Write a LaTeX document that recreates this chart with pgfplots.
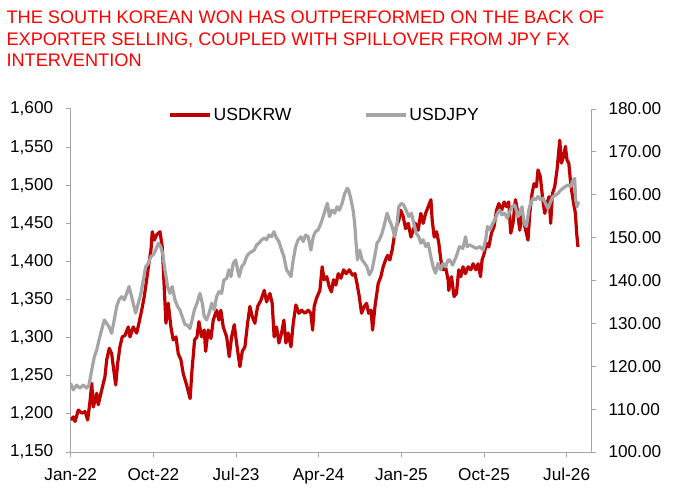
\documentclass[border=0pt]{standalone}
\usepackage{pgfplots}
\pgfplotsset{compat=1.18}
\usepackage{pgfplotstable}
\usepackage{fontspec}
\setmainfont{Liberation Sans}
\definecolor{krw}{HTML}{C00000}
\definecolor{jpy}{HTML}{A5A5A5}
\definecolor{axisgray}{HTML}{A6A6A6}
\definecolor{titlered}{HTML}{FF0000}

\pgfplotstableread{
m v
0.00 1192
0.28 1196
0.47 1190
0.83 1205
1.20 1201
1.56 1203
1.85 1192
2.10 1216
2.29 1240
2.46 1209
2.83 1227
3.00 1212
3.37 1231
3.73 1249
3.92 1271
4.20 1286
4.46 1279
4.64 1262
4.90 1238
5.11 1266
5.36 1288
5.61 1301
5.91 1303
6.27 1314
6.45 1301
6.81 1314
7.18 1306
7.43 1319
7.73 1336
8.01 1354
8.27 1376
8.52 1398
8.74 1415
8.88 1439
9.10 1428
9.36 1435
9.72 1439
9.97 1419
10.18 1367
10.37 1319
10.62 1345
10.91 1314
11.16 1297
11.46 1301
11.71 1279
12.00 1271
12.25 1253
12.62 1238
13.00 1220
13.21 1258
13.49 1297
13.75 1301
13.96 1321
14.25 1301
14.54 1310
14.69 1282
14.97 1310
15.27 1299
15.52 1323
15.88 1336
16.14 1323
16.35 1336
16.61 1314
16.98 1301
17.26 1275
17.52 1301
17.81 1317
18.06 1293
18.42 1262
18.68 1282
18.97 1288
19.26 1319
19.51 1341
19.76 1328
20.05 1319
20.35 1341
20.71 1349
21.07 1362
21.33 1347
21.69 1358
21.94 1345
22.15 1301
22.41 1314
22.67 1293
22.96 1306
23.21 1323
23.43 1293
23.68 1306
23.98 1288
24.23 1319
24.52 1343
24.84 1332
25.14 1336
25.50 1332
25.86 1336
26.15 1332
26.34 1310
26.51 1341
26.77 1352
27.13 1362
27.38 1393
27.59 1376
27.88 1380
28.14 1367
28.39 1360
28.61 1376
28.87 1369
29.13 1384
29.42 1378
29.71 1389
30.00 1384
30.33 1389
30.69 1382
30.95 1384
31.17 1371
31.42 1354
31.67 1332
31.96 1341
32.22 1345
32.44 1332
32.70 1336
32.87 1310
33.13 1341
33.48 1371
33.77 1380
34.02 1393
34.28 1402
34.50 1408
34.75 1402
35.00 1415
35.22 1432
35.47 1446
35.73 1454
35.94 1467
36.20 1459
36.46 1443
36.75 1450
37.04 1432
37.30 1441
37.54 1450
37.83 1441
38.12 1463
38.38 1450
38.64 1463
38.93 1472
39.22 1481
39.36 1454
39.58 1432
39.84 1439
40.08 1424
40.30 1402
40.55 1389
40.81 1393
41.09 1376
41.16 1362
41.46 1380
41.74 1354
42.00 1358
42.25 1389
42.47 1380
42.72 1393
42.98 1384
43.27 1393
43.56 1389
43.81 1397
44.11 1389
44.36 1397
44.62 1380
44.79 1402
45.01 1410
45.27 1424
45.52 1419
45.81 1437
46.10 1446
46.36 1467
46.61 1476
46.91 1467
47.19 1478
47.44 1472
47.69 1478
47.91 1437
48.16 1450
48.42 1481
48.64 1467
48.89 1441
49.08 1459
49.36 1450
49.54 1441
49.79 1428
49.98 1463
50.23 1489
50.45 1502
50.71 1498
50.88 1520
51.14 1511
51.36 1485
51.61 1463
51.86 1476
52.08 1485
52.26 1450
52.45 1489
52.70 1498
52.95 1520
53.25 1559
53.43 1529
53.65 1537
53.86 1551
54.04 1533
54.23 1529
54.44 1502
54.69 1481
54.95 1463
55.09 1437
55.23 1419
}\krwdata

\pgfplotstableread{
m v
0.00 116.0
0.28 114.5
0.65 115.6
1.01 114.9
1.38 115.6
1.74 114.9
1.99 115.6
2.29 119.1
2.57 122.2
2.83 123.8
3.08 126.1
3.37 128.5
3.66 130.8
3.92 130.0
4.17 129.2
4.46 127.7
4.74 130.8
5.00 133.9
5.26 135.5
5.55 136.2
5.84 135.5
6.10 137.0
6.35 138.6
6.64 136.2
6.89 133.9
7.08 132.4
7.36 134.7
7.65 137.0
7.90 140.1
8.16 143.2
8.45 144.0
8.74 145.6
8.99 146.0
9.25 147.1
9.54 148.7
9.80 147.9
10.01 146.3
10.26 142.5
10.55 138.6
10.80 137.0
11.05 138.6
11.35 135.5
11.64 133.9
11.89 133.1
12.14 131.6
12.43 129.8
12.73 129.5
12.98 128.8
13.24 131.0
13.46 133.1
13.75 134.7
14.07 137.0
14.33 134.7
14.54 131.6
14.80 130.8
15.07 132.4
15.36 134.7
15.63 133.1
15.88 136.2
16.14 137.4
16.43 137.0
16.68 140.1
16.98 140.5
17.23 142.5
17.45 140.9
17.70 144.0
17.96 144.8
18.17 142.5
18.35 140.9
18.61 143.2
18.90 144.0
19.16 145.6
19.41 146.3
19.70 146.7
19.98 147.1
20.24 148.3
20.49 148.7
20.79 149.5
21.07 149.9
21.33 149.5
21.58 150.6
21.87 150.2
22.12 151.4
22.41 149.9
22.67 149.1
22.96 147.1
23.21 145.6
23.50 142.5
23.75 141.7
23.98 140.9
24.23 144.8
24.49 147.9
24.77 149.5
25.07 150.2
25.32 149.1
25.58 150.6
25.86 150.2
26.15 147.1
26.41 150.2
26.66 151.4
26.94 151.8
27.24 153.3
27.49 154.9
27.81 157.2
27.95 158.0
28.17 154.9
28.46 156.4
28.74 155.7
29.00 157.2
29.25 156.4
29.55 158.0
29.84 160.3
30.10 161.5
30.26 161.1
30.53 158.8
30.75 156.4
30.92 153.3
31.07 148.7
31.22 144.8
31.46 147.1
31.72 144.8
32.01 144.0
32.26 143.2
32.52 141.3
32.81 142.5
33.10 145.6
33.35 148.7
33.61 149.5
33.90 151.0
34.18 153.3
34.45 155.7
34.70 154.1
34.99 152.6
35.28 150.2
35.54 153.3
35.72 157.2
36.01 158.0
36.26 157.6
36.52 156.4
36.81 154.9
37.10 155.7
37.36 153.3
37.62 151.0
37.90 150.2
38.12 148.7
38.37 149.5
38.67 147.9
38.92 148.7
39.21 145.6
39.46 143.2
39.72 141.7
40.00 144.0
40.27 142.5
40.55 144.0
40.81 143.2
41.09 144.8
41.27 144.8
41.58 143.6
41.98 145.6
42.33 147.9
42.70 147.5
42.99 150.2
43.18 147.9
43.44 148.3
43.81 147.9
44.18 147.5
44.54 147.9
44.91 147.1
45.18 149.5
45.38 152.6
45.65 151.8
45.94 153.3
46.17 154.1
46.46 155.7
46.71 156.4
46.96 155.3
47.25 155.7
47.54 154.5
47.80 156.1
48.05 157.2
48.34 157.6
48.53 156.4
48.71 154.9
48.89 155.7
49.14 157.2
49.36 153.3
49.62 152.6
49.87 156.4
50.08 158.0
50.34 159.2
50.60 158.8
50.88 159.6
51.18 158.8
51.43 159.2
51.69 158.0
51.97 156.8
52.26 158.4
52.51 159.6
52.80 159.9
53.05 160.3
53.35 161.1
53.60 161.5
53.86 161.9
54.14 162.3
54.44 161.9
54.69 163.4
54.87 163.8
54.98 158.8
55.13 157.2
55.31 158.4
}\jpydata

\begin{document}
\begin{tikzpicture}
\path[use as bounding box] (0,0) rectangle (674pt,490pt);
\begin{scope}[font=\fontsize{18.2}{21.3}\selectfont, text=titlered]
\node[anchor=base west, inner sep=0pt] at (6.3pt,466.6pt) {THE SOUTH KOREAN WON HAS OUTPERFORMED ON THE BACK OF};
\node[anchor=base west, inner sep=0pt] at (6.3pt,444.9pt) {EXPORTER SELLING, COUPLED WITH SPILLOVER FROM JPY FX};
\node[anchor=base west, inner sep=0pt] at (6.3pt,423.9pt) {INTERVENTION};
\end{scope}
\pgfplotsset{
  common/.style={
    scale only axis, width=520.3pt, height=343pt,
    at={(70.7pt,38pt)}, anchor=south west,
    xmin=0, xmax=56.65,
    tick align=outside, major tick length=5pt,
    axis line style={draw=axisgray, line width=1pt, -},
    every tick/.style={draw=axisgray, line width=1pt},
    tick label style={font=\fontsize{17.2}{20}\selectfont, text=black},
    /pgf/number format/assume math mode=true,
  }
}
\begin{axis}[common,
  axis x line*=bottom, axis y line*=left,
  ymin=1150, ymax=1600,
  xtick={0,9,18,27,36,45,54},
  xticklabels={Jan-22,Oct-22,Jul-23,Apr-24,Jan-25,Oct-25,Jul-26},
  xticklabel style={yshift=-8pt},
  ytick={1150,1200,...,1600},
  yticklabel style={xshift=-9pt, /pgf/number format/.cd, 1000 sep={,}},
]
\addplot[krw, line width=3.2pt, line join=round] table[x=m,y=v] {\krwdata};
\end{axis}
\begin{axis}[common,
  axis x line=none, axis y line*=right,
  ymin=100, ymax=180,
  ytick={100,110,...,180},
  yticklabel style={xshift=9pt, /pgf/number format/.cd, fixed, fixed zerofill, precision=2},
  legend columns=2,
  legend style={draw=none, fill=none, at={(0.1876,0.9825)}, anchor=west,
    inner sep=0pt, font=\fontsize{17.6}{20}\selectfont,
    /tikz/every even column/.append style={column sep=70.5pt}},
  legend image code/.code={\draw[#1] (0pt,0pt) -- (40pt,0pt);},
]
\addlegendimage{krw, line width=3.2pt}
\addlegendentry{USDKRW}
\addplot[jpy, line width=3.2pt, line join=round] table[x=m,y=v] {\jpydata};
\addlegendentry{USDJPY}
\end{axis}
\end{tikzpicture}
\end{document}
